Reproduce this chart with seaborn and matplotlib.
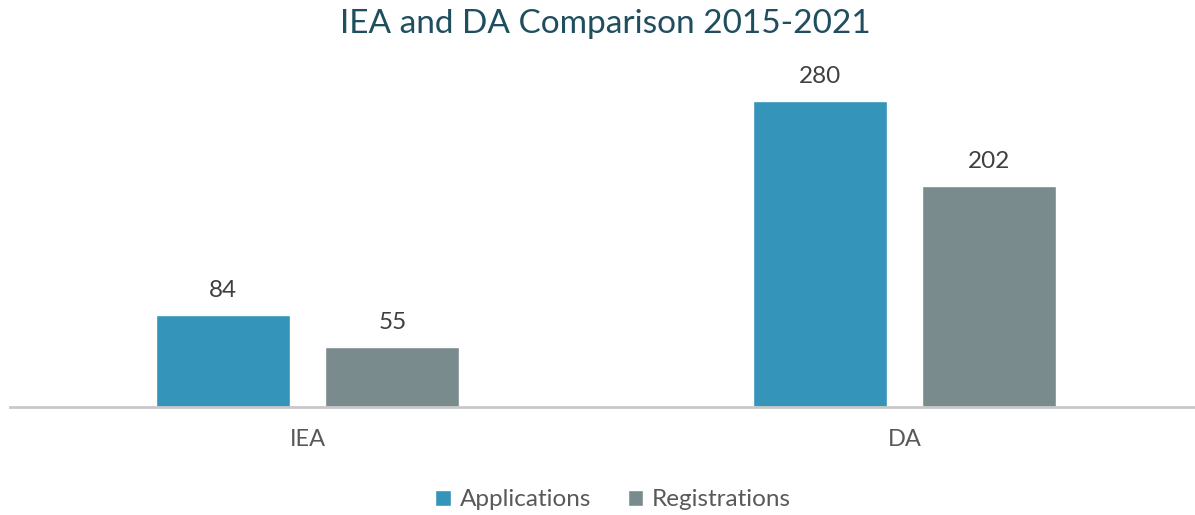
import pandas as pd
import matplotlib.pyplot as plt
import seaborn as sns

sns.set_theme(style="white")
plt.rcParams['font.family'] = ['Lato', 'DejaVu Sans']

# data
categories = ["IEA", "DA"]
applications = [84, 280]
registrations = [55, 202]
series = ["Applications", "Registrations"]
colors = ["#3594BA", "#7A8B8D"]

df = pd.DataFrame({
    "category": categories * 2,
    "series": [series[0]] * len(categories) + [series[1]] * len(categories),
    "value": applications + registrations,
})

fig = plt.figure(figsize=(11.95, 5.15), dpi=100)
ax = fig.add_axes([10 / 1195, (515 - 407) / 515, 1 - 10 / 1195, 350 / 515])

sns.barplot(data=df, x="category", y="value", hue="series", order=categories,
            hue_order=series, palette=colors, width=0.566, gap=0.207,
            saturation=1, ax=ax, legend=True)

for cont in ax.containers:
    ax.bar_label(cont, padding=10, fontsize=17.5, color="#404040")

ax.set_xlim(-0.499, 1.486)
ax.set_ylim(0, 320)
ax.set_xlabel("")
ax.set_ylabel("")
ax.set_yticks([])
ax.tick_params(axis="x", length=0, pad=16, labelsize=17, labelcolor="#595959")
for s in ["top", "right", "left"]:
    ax.spines[s].set_visible(False)
ax.spines["bottom"].set_color("#C8C8C8")
ax.spines["bottom"].set_linewidth(2)

fig.suptitle("IEA and DA Comparison 2015-2021", x=0.507, y=0.982, va="top",
             fontsize=24, color="#1F4E5E")

leg = ax.legend(loc="center", bbox_to_anchor=(0.509, -0.265), ncol=2, frameon=False,
                fontsize=17.5, handlelength=0.65, handleheight=0.65, handletextpad=0.35,
                columnspacing=1.5)
for t in leg.get_texts():
    t.set_color("#595959")

fig.savefig("out.png", dpi=100)
